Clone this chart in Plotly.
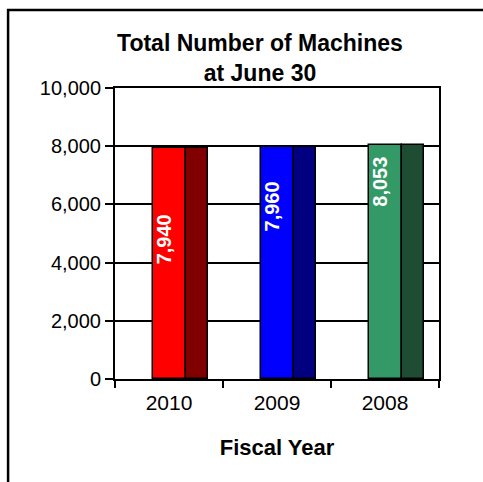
import plotly.graph_objects as go

years = ["2010", "2009", "2008"]
machines = [7940, 7960, 8053]
front_colors = ["#FF0000", "#0000FF", "#339966"]
side_colors = ["#800000", "#000080", "#1E4D33"]
label_texts = ["7,940", "7,960", "8,053"]
label_y = [4800, 5930, 6780]

FONT = "Liberation Sans, Arial, sans-serif"

fig = go.Figure()
fig.add_trace(go.Bar(
    x=years, y=machines, width=0.306, offset=-0.150,
    marker=dict(color=front_colors, line=dict(color="black", width=1.5)),
    hoverinfo="x+y", showlegend=False,
))
fig.add_trace(go.Bar(
    x=years, y=machines, width=0.204, offset=0.156,
    marker=dict(color=side_colors, line=dict(color="black", width=1.5)),
    hoverinfo="skip", showlegend=False,
))

for i, (txt, ly) in enumerate(zip(label_texts, label_y)):
    fig.add_annotation(
        x=i, y=ly, xref="x", yref="y", text=f"<b>{txt}</b>",
        textangle=-90, showarrow=False, xshift=-5,
        font=dict(family=FONT, size=20, color="white"),
    )

# cut-off "Table 9" heading at very top
fig.add_annotation(
    x=0.397, y=1.279, xref="paper", yref="paper", text="<b>Table 9</b>",
    showarrow=False, xanchor="center", yanchor="bottom",
    font=dict(family=FONT, size=22, color="black"),
)

# outer frame
fig.add_shape(
    type="rect", xref="paper", yref="paper",
    x0=-0.330, x1=1.3, y0=-0.6, y1=1.268,
    line=dict(color="black", width=2.5), fillcolor="rgba(0,0,0,0)", layer="above",
)

fig.update_layout(
    width=483, height=482,
    margin=dict(l=115, r=44, t=88, b=103, autoexpand=False),
    paper_bgcolor="white", plot_bgcolor="white",
    barmode="overlay", bargap=0,
    font=dict(family=FONT, size=20, color="black"),
    title=dict(
        text="<b>Total Number of Machines<br>at June 30</b>",
        x=0.4475, xref="paper", xanchor="center",
        y=1 - 51 / 482, yref="container", yanchor="middle",
        font=dict(family=FONT, size=23, color="black"),
    ),
    xaxis=dict(
        type="category", categoryorder="array", categoryarray=years,
        range=[-0.5, 2.5], tickson="boundaries", ticks="outside", ticklen=7,
        tickwidth=1.5, tickcolor="black", showline=True, linecolor="black",
        linewidth=2, mirror=True, showgrid=False, tickangle=0,
        ticklabelstandoff=4,
        tickfont=dict(family=FONT, size=21, color="black"),
        title=dict(text="<b>Fiscal Year</b>", standoff=26,
                   font=dict(family=FONT, size=22, color="black")),
    ),
    yaxis=dict(
        range=[0, 10000], dtick=2000, tickformat=",", ticks="outside",
        ticklen=8, tickwidth=1.5, tickcolor="black", showline=True,
        linecolor="black", linewidth=2, mirror=True,
        showgrid=True, gridcolor="black", gridwidth=1.5,
        zeroline=False, tickfont=dict(family=FONT, size=20, color="black"),
    ),
)

fig.write_html("out.html", config={"displayModeBar": False},
               post_script="document.body.style.margin='0';")
